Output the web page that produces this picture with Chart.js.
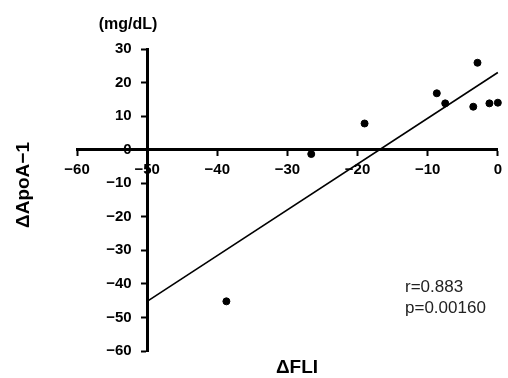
<!DOCTYPE html>
<html><head><meta charset="utf-8">
<script src="https://cdn.jsdelivr.net/npm/chart.js@4"></script>
<style>html,body{margin:0;padding:0;background:#fff;}</style>
</head><body>
<canvas id="c" width="508" height="378"></canvas>
<script>
// ΔFLI (x) and ΔApoA-1 (y)
const fliChange = [-38.7, -26.6, -19.0, -8.7, -7.5, -3.5, -2.9, -1.2, 0.0];
const apoChange = [-45.2, -1.3, 7.8, 16.8, 13.8, 12.8, 25.9, 13.8, 14.0];
// regression line end points
const fitX = [-50, 0];
const fitY = [-45.2, 23.0];
// axes
const xTickValues = [-60, -50, -40, -30, -20, -10, 0];
const yTickValues = [-60, -50, -40, -30, -20, -10, 0, 10, 20, 30];
const unitLabel = '(mg/dL)';
const xTitle = 'ΔFLI';
const yTitle = 'ΔApoA\u22121';
const statLines = ['r=0.883', 'p=0.00160'];

const fmt = v => (v < 0 ? '\u2212' + Math.abs(v) : String(v));
const tickFont = {family: 'Liberation Sans', size: 15, weight: 'bold'};
const tickMarks = {display: true, drawOnChartArea: false, drawTicks: true, tickLength: 5, tickWidth: 2, tickColor: '#000'};

const textPlugin = {
  id: 'texts',
  afterDraw(chart) {
    const ctx = chart.ctx;
    ctx.save();
    ctx.fillStyle = '#000';
    ctx.textBaseline = 'middle';
    ctx.textAlign = 'center';
    ctx.font = 'bold 16px "Liberation Sans"';
    ctx.fillText(unitLabel, 128, 25);
    ctx.font = 'bold 19px "Liberation Sans"';
    ctx.fillText(xTitle, 297, 368);
    ctx.save();
    ctx.translate(24, 185);
    ctx.rotate(-Math.PI / 2);
    ctx.fillText(yTitle, 0, 0);
    ctx.restore();
    ctx.textAlign = 'left';
    ctx.textBaseline = 'alphabetic';
    ctx.font = '17px "Liberation Sans"';
    ctx.fillStyle = '#222';
    ctx.fillText(statLines[0], 405, 292);
    ctx.fillText(statLines[1], 405, 313);
    ctx.restore();
  }
};

new Chart(document.getElementById('c'), {
  type: 'scatter',
  data: {
    datasets: [
      {
        data: fliChange.map((x, i) => ({x, y: apoChange[i]})),
        backgroundColor: '#000', borderColor: '#000',
        pointRadius: 3.5, pointHoverRadius: 3.5, clip: false
      },
      {
        data: fitX.map((x, i) => ({x, y: fitY[i]})),
        showLine: true, pointRadius: 0, borderColor: '#000',
        borderWidth: 1.6, clip: false
      }
    ]
  },
  options: {
    responsive: false, animation: false, devicePixelRatio: 1,
    layout: {padding: {left: 77, right: 8, top: 49, bottom: 27}},
    plugins: {legend: {display: false}, tooltip: {enabled: false}},
    scales: {
      x: {
        type: 'linear', min: -60, max: 0, position: {y: 0},
        afterBuildTicks: s => { s.ticks = xTickValues.map(v => ({value: v})); },
        border: {display: true, color: '#000', width: 3},
        grid: tickMarks,
        ticks: {font: tickFont, color: '#000', padding: 6, callback: fmt, maxRotation: 0, autoSkip: false}
      },
      y: {
        type: 'linear', min: -60, max: 30, position: {x: -50},
        afterBuildTicks: s => { s.ticks = yTickValues.map(v => ({value: v})); },
        border: {display: true, color: '#000', width: 3},
        grid: tickMarks,
        ticks: {display: false}
      },
      yLabels: {
        type: 'linear', axis: 'y', min: -60, max: 30, position: {x: -52.2},
        afterBuildTicks: s => { s.ticks = yTickValues.map(v => ({value: v})); },
        border: {display: false},
        grid: {display: false, drawTicks: false},
        ticks: {font: tickFont, color: '#000', padding: 0, callback: fmt, autoSkip: false}
      }
    }
  },
  plugins: [textPlugin]
});
</script>
</body></html>
